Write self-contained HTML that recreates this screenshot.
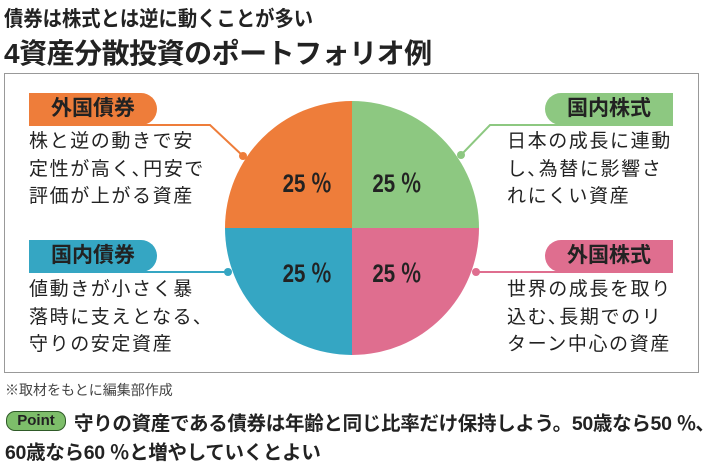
<!DOCTYPE html>
<html><head><meta charset="utf-8">
<style>
body{margin:0;width:710px;height:469px;background:#fff;overflow:hidden;font-family:"Liberation Sans","Noto Sans CJK JP",sans-serif;color:#222;position:relative}
.abs{position:absolute;white-space:nowrap}
.pill{position:absolute;height:32px;line-height:32px;font-size:21px;font-weight:bold;text-align:center;color:#222}
.desc{position:absolute;font-size:19px;line-height:27.5px;letter-spacing:1.6px;white-space:nowrap;color:#222}
</style></head><body>
<div class="abs" style="left:4px;top:3px;font-size:21px;font-weight:bold;transform:scaleX(0.92);transform-origin:left">債券は株式とは逆に動くことが多い</div>
<div class="abs" style="left:4px;top:32px;font-size:28px;font-weight:bold;letter-spacing:-0.5px">4資産分散投資のポートフォリオ例</div>
<div class="abs" style="left:4px;top:73px;width:693px;height:298px;border:1px solid #999"></div>
<svg class="abs" style="left:0;top:0" width="710" height="469">
<g id="pie"></g>
<g id="conn"></g>
</svg>
<div class="pill" style="left:29px;top:93px;width:128px;background:#EE7D3A;border-radius:0 16px 16px 0">外国債券</div>
<div class="desc" style="left:29px;top:128px">株と逆の動きで安<br>定性が高く､円安で<br>評価が上がる資産</div>
<div class="pill" style="left:29px;top:240px;width:128px;background:#35A6C3;border-radius:0 16px 16px 0">国内債券</div>
<div class="desc" style="left:29px;top:276px">値動きが小さく暴<br>落時に支えとなる､<br>守りの安定資産</div>
<div class="pill" style="left:545px;top:93px;width:128px;background:#8DC881;border-radius:16px 0 0 16px">国内株式</div>
<div class="desc" style="left:507px;top:128px">日本の成長に連動<br>し､為替に影響さ<br>れにくい資産</div>
<div class="pill" style="left:545px;top:240px;width:128px;background:#DF6E8F;border-radius:16px 0 0 16px">外国株式</div>
<div class="desc" style="left:507px;top:276px">世界の成長を取り<br>込む､長期でのリ<br>ターン中心の資産</div>
<div class="abs" style="left:5px;top:380px;font-size:14px;color:#444">※取材をもとに編集部作成</div>
<div class="abs" style="left:6px;top:411px;width:58px;height:18px;line-height:18px;background:#7DBE6A;border:1.5px solid #2f5a28;border-radius:9px;font-size:15px;font-weight:bold;text-align:center;color:#222">Point</div>
<div class="abs" style="left:74px;top:407px;font-size:19.5px;font-weight:bold;letter-spacing:-0.3px">守りの資産である債券は年齢と同じ比率だけ保持しよう。50歳なら50 ％､</div>
<div class="abs" style="left:5px;top:436px;font-size:19.5px;font-weight:bold;letter-spacing:-0.3px">60歳なら60 ％と増やしていくとよい</div>
<script>
const categories=["国内株式","外国株式","国内債券","外国債券"];
const values=[25,25,25,25];
const colors=["#8DC881","#DF6E8F","#35A6C3","#EE7D3A"];
const cx=352,cy=228,r=127;
const NS="http://www.w3.org/2000/svg";
const pie=document.getElementById("pie");
const total=values.reduce((a,b)=>a+b,0);
function pt(a,rr){return [cx+rr*Math.sin(a),cy-rr*Math.cos(a)];}
let a0=0;
values.forEach((v,i)=>{
  const a1=a0+v/total*2*Math.PI;
  const p0=pt(a0,r),p1=pt(a1,r);
  const large=(a1-a0)>Math.PI?1:0;
  const path=document.createElementNS(NS,"path");
  path.setAttribute("d",`M${cx},${cy}L${p0[0]},${p0[1]}A${r},${r} 0 ${large} 1 ${p1[0]},${p1[1]}Z`);
  path.setAttribute("fill",colors[i]);
  
  
  pie.appendChild(path);
  const m=(a0+a1)/2;
  const lp=pt(m,r*0.5);
  const t=document.createElementNS(NS,"text");
  t.setAttribute("x",lp[0]);t.setAttribute("y",lp[1]+9);
  t.setAttribute("text-anchor","middle");
  t.setAttribute("font-size","25");t.setAttribute("font-weight","bold");
  t.setAttribute("fill","#222");
  t.setAttribute("transform",`translate(${lp[0]},0) scale(0.82,1) translate(${-lp[0]},0)`);
  t.textContent=values[i]+" ％";
  
  
  pie.appendChild(t);
  a0=a1;
});
const conn=document.getElementById("conn");
const lines=[
 {c:"#EE7D3A",d:"M29,125L210,125L243,156",dot:[243,156]},
 {c:"#35A6C3",d:"M29,272L228,272",dot:[228,272]},
 {c:"#8DC881",d:"M673,125L490,125L461,155",dot:[461,155]},
 {c:"#DF6E8F",d:"M673,272L476,272",dot:[476,272]}
];
lines.forEach(l=>{
  const p=document.createElementNS(NS,"path");
  p.setAttribute("d",l.d);p.setAttribute("stroke",l.c);p.setAttribute("stroke-width","2");p.setAttribute("fill","none");
  
  
  conn.appendChild(p);
  const c=document.createElementNS(NS,"circle");
  c.setAttribute("cx",l.dot[0]);c.setAttribute("cy",l.dot[1]);c.setAttribute("r","4");c.setAttribute("fill",l.c);
  
  
  conn.appendChild(c);
});
</script>
</body></html>
